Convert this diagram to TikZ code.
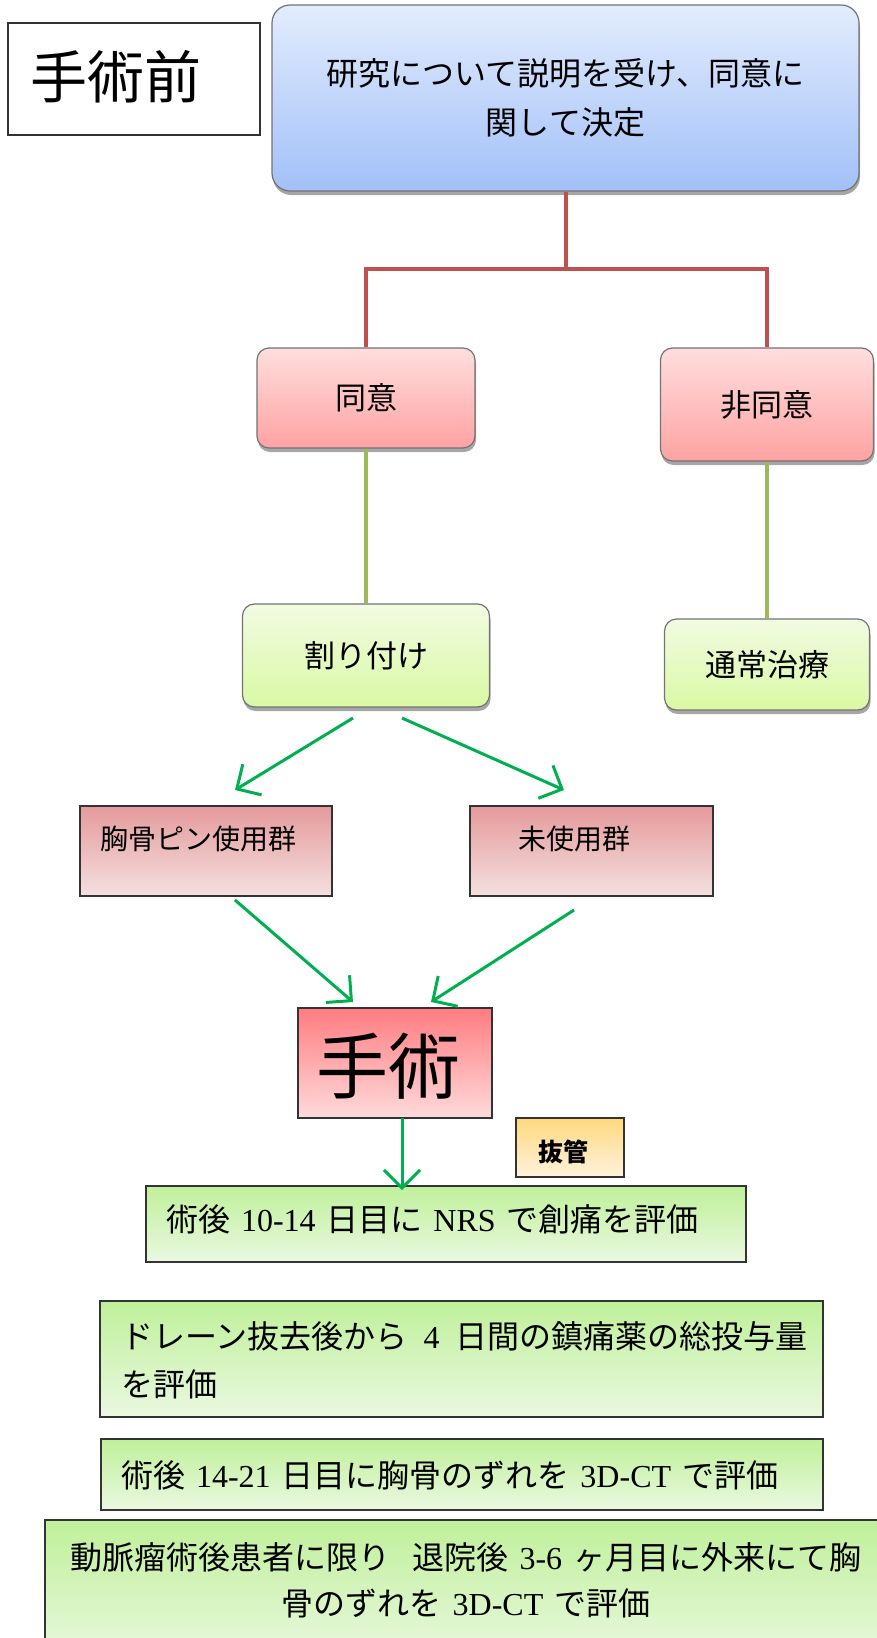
\documentclass[tikz,border=0pt]{standalone}
\usepackage{fontspec}
\setmainfont{Liberation Serif}
\newfontfamily\jp{Noto Sans CJK JP}
\usetikzlibrary{shadows,arrows.meta}
\newcommand\lat[1]{{\rmfamily #1}}
\newcommand\gap{\hspace{0.34em}}
\newcommand\wgap{\hspace{0.5em}}
\definecolor{linkred}{HTML}{C0504D}
\definecolor{linkolive}{HTML}{9BBB59}
\definecolor{arrowgreen}{HTML}{00B050}
\definecolor{blueTop}{HTML}{E2ECFD}
\definecolor{blueBot}{HTML}{A2C0F8}
\definecolor{pinkTop}{HTML}{FFDEDE}
\definecolor{pinkBot}{HTML}{FFA2A2}
\definecolor{limeTop}{HTML}{F2FBE2}
\definecolor{limeBot}{HTML}{D9F9A4}
\definecolor{roseTop}{HTML}{E59A9B}
\definecolor{roseBot}{HTML}{F4E0E0}
\definecolor{opTop}{HTML}{FF7C80}
\definecolor{opBot}{HTML}{FFDADB}
\definecolor{goldTop}{HTML}{FFD97F}
\definecolor{goldBot}{HTML}{FFF2DC}
\definecolor{evTop}{HTML}{BFF09A}
\definecolor{evBot}{HTML}{EAF8E0}
\begin{document}
\begin{tikzpicture}[x=1pt,y=-1pt,
  every node/.style={font=\jp\fontsize{32}{47}\selectfont},
  softbox/.style={draw=black!55, line width=1.2pt, rounded corners=12pt,
     drop shadow={shadow xshift=1pt, shadow yshift=-4pt, opacity=0.35, fill=black}},
  plainbox/.style={draw=black!80, line width=1.2pt, inner sep=0pt},
  txt/.style={inner sep=0pt},
  redlink/.style={draw=linkred, line width=4pt},
  olivelink/.style={draw=linkolive, line width=4pt},
  flow/.style={draw=arrowgreen, line width=3pt, -{Straight Barb[length=18pt, width=36pt, line width=3pt]}},
]
\useasboundingbox (0,0) rectangle (877,1638);
\fill[white] (0,0) rectangle (877,1638);

% top row
\node[plainbox, minimum width=252pt, minimum height=112pt] (pre) at (134,79) {};
\node[txt, anchor=west, font=\jp\fontsize{57}{60}\selectfont] (pretext) at (30,77) {手術前};

\node[softbox, rounded corners=18pt, top color=blueTop, bottom color=blueBot,
      minimum width=587pt, minimum height=186pt, align=center,
      font=\jp\fontsize{32}{49}\selectfont] (decide) at (565.5,98) {研究について説明を受け、同意に\\関して決定};

% consent level
\node[softbox, top color=pinkTop, bottom color=pinkBot, minimum width=218pt, minimum height=100pt, font=\jp\fontsize{31}{40}\selectfont] (agree) at (366,398) {同意};
\node[softbox, top color=pinkTop, bottom color=pinkBot, minimum width=213pt, minimum height=113pt, font=\jp\fontsize{31}{40}\selectfont] (disagree) at (767,404.5) {非同意};

\coordinate (j) at (565.5,269);
\path[redlink] (decide.south) -- (j) -| (agree.north);
\path[redlink] (j) -| (disagree.north);

% allocation level
\node[softbox, top color=limeTop, bottom color=limeBot, minimum width=247pt, minimum height=103pt, font=\jp\fontsize{31}{40}\selectfont] (alloc) at (366,655.5) {割り付け};
\node[softbox, top color=limeTop, bottom color=limeBot, minimum width=205pt, minimum height=91pt, font=\jp\fontsize{31}{40}\selectfont] (usual) at (767,664.5) {通常治療};

\path[olivelink] (agree.south) -- (alloc.north);
\path[olivelink] (disagree.south) -- (usual.north);

% groups
\node[plainbox, top color=roseTop, bottom color=roseBot, minimum width=252pt, minimum height=90pt] (pin) at (206,851) {};
\node[txt, anchor=west, font=\jp\fontsize{28}{30}\selectfont] (pintext) at (100,839) {胸骨ピン使用群};
\node[plainbox, top color=roseTop, bottom color=roseBot, minimum width=243pt, minimum height=90pt] (nopin) at (591.5,851) {};
\node[txt, anchor=west, font=\jp\fontsize{28}{30}\selectfont] (nopintext) at (518,839) {未使用群};

\coordinate (a1s) at (353,718);
\coordinate (a1e) at (235,790);
\coordinate (a2s) at (402,718);
\coordinate (a2e) at (564,790);
\path[flow] (a1s) -- (a1e);
\path[flow] (a2s) -- (a2e);

% operation
\node[plainbox, top color=opTop, bottom color=opBot, minimum width=194pt, minimum height=110pt] (op) at (395,1063) {};
\node[txt, font=\jp\fontsize{72}{76}\selectfont] (optext) at (388,1066) {手術};

\coordinate (a3s) at (235,900);
\coordinate (a3e) at (353,1002);
\coordinate (a4s) at (574,910);
\coordinate (a4e) at (431,1002);
\path[flow] (a3s) -- (a3e);
\path[flow] (a4s) -- (a4e);

\node[plainbox, top color=goldTop, bottom color=goldBot, minimum width=108pt, minimum height=59pt] (ext) at (570,1147.5) {};
\node[txt, font=\jp\bfseries\fontsize{25}{28}\selectfont] (exttext) at (563,1152) {抜管};

% evaluations
\node[plainbox, top color=evTop, bottom color=evBot, minimum width=600pt, minimum height=76pt] (ev1) at (446,1224) {};
\node[txt, anchor=west] (ev1text) at (166,1219) {術後\gap\lat{10-14}\gap 日目に\gap\lat{NRS}\gap で創痛を評価};

\coordinate (a5s) at (402,1118);
\path[flow] (a5s) -- (402,1190) coordinate (a5e);

\node[plainbox, top color=evTop, bottom color=evBot, minimum width=723pt, minimum height=116pt] (ev2) at (461.5,1359) {};
\node[txt, anchor=west, align=left, font=\jp\fontsize{32}{48}\selectfont] (ev2text) at (121,1360) {ドレーン抜去後から\wgap\lat{4}\wgap 日間の鎮痛薬の総投与量\\を評価};

\node[plainbox, top color=evTop, bottom color=evBot, minimum width=722pt, minimum height=71pt] (ev3) at (462,1474.5) {};
\node[txt, anchor=west] (ev3text) at (121,1475) {術後\gap\lat{14-21}\gap 日目に胸骨のずれを\gap\lat{3D-CT}\gap で評価};

\node[plainbox, top color=evTop, bottom color=evBot, minimum width=860pt, minimum height=140pt] (ev4) at (475,1590) {};
\node[txt, align=center, font=\jp\fontsize{32}{46}\selectfont] (ev4text) at (466,1580) {動脈瘤術後患者に限り\gap\gap 退院後\gap\lat{3-6}\gap ヶ月目に外来にて胸\\骨のずれを\gap\lat{3D-CT}\gap で評価};
\end{tikzpicture}
\end{document}
